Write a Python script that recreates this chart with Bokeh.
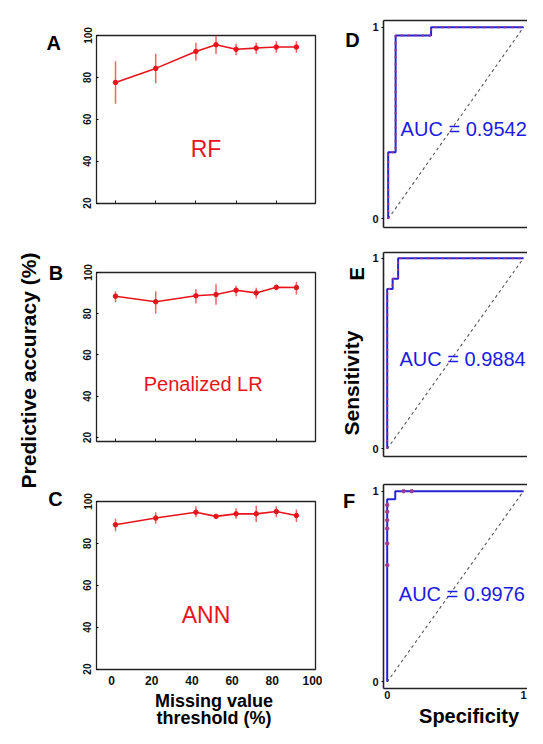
import math
from bokeh.plotting import figure
from bokeh.models import Range1d, FixedTicker, LinearAxis
from bokeh.layouts import row, column
from bokeh.embed import file_html
from bokeh.resources import INLINE
from bokeh.core.properties import value

# ---------------- data ----------------
thresholds = [2, 22, 42, 52, 62, 72, 82, 92]

rf_acc = [77.6, 84.3, 92.4, 95.6, 93.4, 94.0, 94.5, 94.5]
rf_lo = [67.4, 77.2, 88.0, 91.2, 90.6, 91.3, 91.8, 91.8]
rf_hi = [87.7, 91.3, 96.5, 100.0, 96.1, 96.5, 97.2, 97.2]

lr_acc = [88.5, 85.8, 88.7, 89.3, 91.4, 90.1, 92.8, 92.7]
lr_lo = [85.6, 80.1, 85.0, 84.3, 88.5, 87.4, 91.4, 89.3]
lr_hi = [90.9, 90.9, 91.9, 94.3, 93.6, 92.6, 94.1, 95.5]

ann_acc = [88.9, 92.1, 94.9, 92.9, 94.1, 94.1, 95.2, 93.3]
ann_lo = [85.8, 89.4, 92.5, 92.1, 91.8, 90.2, 92.5, 90.2]
ann_hi = [91.8, 94.9, 97.7, 93.6, 96.8, 98.0, 97.7, 96.2]

acc_yticks = [20, 40, 60, 80, 100]
acc_xticks = [0, 20, 40, 60, 80, 100]
acc_minor_xticks = [2, 22, 42, 62, 82]
method_names = ["RF", "Penalized  LR", "ANN"]

roc_d_fpr = [0, 0, 0.055, 0.055, 0.317, 0.317, 1.0]
roc_d_tpr = [0, 0.348, 0.348, 0.957, 0.957, 1.0, 1.0]
roc_e_fpr = [0, 0, 0.04, 0.04, 0.08, 0.08, 1.0]
roc_e_tpr = [0, 0.839, 0.839, 0.892, 0.892, 1.0, 1.0]
roc_f_fpr = [0, 0, 0.059, 0.059, 1.0]
roc_f_tpr = [0, 0.958, 0.958, 1.0, 1.0]
roc_f_mark_fpr = [0, 0, 0, 0, 0, 0, 0.12, 0.18]
roc_f_mark_tpr = [0.612, 0.726, 0.804, 0.848, 0.892, 0.927, 1.0, 1.0]
roc_ticks = [0, 1]
auc_labels = ["AUC = 0.9542", "AUC = 0.9884", "AUC = 0.9976"]

panel_letters = ["A", "B", "C", "D", "E", "F"]
y_title = "Predictive accuracy (%)"
x_title_lines = ["Missing value", "threshold (%)"]
roc_y_title = "Sensitivity"
roc_x_title = "Specificity"

# ---------------- style / layout ----------------
FONT = "Liberation Sans"
RED = "#e8141c"
BAR_RED = "#f04848"
BLUE = "#2424d4"
TXT_BLUE = "#1c1ce0"
MARK = "#a03a90"
FRAME = "#222222"

TOTAL_H = 728
STRIP_L = 63          # left text strip
COL_L_END = 322       # end of accuracy column
COL_R_START = 368     # start of ROC column
RIGHT_END = 527


def strip(width, height):
    p = figure(width=width, height=height, x_range=Range1d(0, width),
               y_range=Range1d(0, height), output_backend="svg",
               toolbar_location=None, x_axis_location=None,
               y_axis_location=None, min_border=0)
    p.grid.visible = False
    p.outline_line_color = None
    return p


def strip_text(p, height, x, y, text, size, angle=0.0):
    p.text(x=[x], y=[height - y], text=[text], angle=angle,
           text_font=value(FONT), text_font_size=size, text_font_style="bold",
           text_color="black", text_align="center", text_baseline="middle")


def left_panel(acc, lo, hi, name, yr, h, bt, bb, show_x, name_size):
    xr = (-7.46, 101.5)
    p = figure(width=COL_L_END - STRIP_L, height=h, x_range=Range1d(*xr),
               y_range=Range1d(*yr), output_backend="svg", toolbar_location=None,
               min_border_left=96 - STRIP_L, min_border_right=COL_L_END - 315,
               min_border_top=bt, min_border_bottom=bb)
    p.grid.visible = False
    p.outline_line_color = FRAME
    p.outline_line_width = 1.3

    ya = p.yaxis[0]
    ya.ticker = FixedTicker(ticks=acc_yticks)
    ya.minor_tick_line_color = None
    ya.major_tick_in = 2
    ya.major_tick_out = 0
    ya.axis_line_color = None
    ya.major_label_orientation = "vertical"
    ya.major_label_standoff = 5
    ya.major_label_text_font = FONT
    ya.major_label_text_font_style = "bold"
    ya.major_label_text_font_size = "10px"
    ya.major_label_text_color = "#111111"

    xa = p.xaxis[0]
    xa.axis_line_color = None
    if show_x:
        xa.ticker = FixedTicker(ticks=acc_xticks)
        xa.minor_tick_line_color = None
        xa.major_tick_in = 0
        xa.major_tick_out = 0
        xa.major_label_standoff = 6
        xa.major_label_text_font = FONT
        xa.major_label_text_font_style = "bold"
        xa.major_label_text_font_size = "12px"
        xa.major_label_text_color = "#111111"
    else:
        xa.ticker = FixedTicker(ticks=[], minor_ticks=acc_minor_xticks)
        xa.major_tick_line_color = None
        xa.minor_tick_line_color = FRAME
        xa.minor_tick_in = 3
        xa.minor_tick_out = 0

    p.segment(x0=thresholds, y0=lo, x1=thresholds, y1=hi, line_color=BAR_RED,
              line_width=1.5, line_alpha=0.85)
    p.line(thresholds, acc, line_color=RED, line_width=1.6)
    p.scatter(thresholds, acc, size=4.5, fill_color=RED, line_color=RED)
    p.text(x=[47], y=[46], text=[name], text_color=RED, text_font=value(FONT),
           text_font_size=name_size, text_align="center", text_baseline="middle")
    return p


# ---- accuracy column (A, B, C) ----
H_A, H_B, H_C = 238, 232, 219
pa = left_panel(rf_acc, rf_lo, rf_hi, method_names[0], (19.8, 100), H_A, 35, 35, False, "23px")
pb = left_panel(lr_acc, lr_lo, lr_hi, method_names[1], (18.0, 100), H_B, 34, 29, False, "20px")
pc = left_panel(ann_acc, ann_lo, ann_hi, method_names[2], (19.8, 100), H_C, 31, 20, True, "23px")
y_off = H_A + H_B + H_C
bl_h = TOTAL_H - y_off
pbl = strip(COL_L_END - STRIP_L, bl_h)
strip_text(pbl, bl_h, 202 - STRIP_L, 700.0 - y_off, x_title_lines[0], "18px")
strip_text(pbl, bl_h, 202 - STRIP_L, 717.5 - y_off, x_title_lines[1], "18px")

# ---- ROC column (D, E, F) ----
X0_PX, X1_PX = 386.7, 523.0
PPU = X1_PX - X0_PX


def roc_panel(fpr, tpr, auc, auc_xy, yr, h, bt, bb, bl, show_x, dotted):
    fl = COL_R_START + bl
    xr = ((fl - X0_PX) / PPU, (RIGHT_END - X0_PX) / PPU)
    p = figure(width=RIGHT_END - COL_R_START, height=h, x_range=Range1d(*xr),
               y_range=Range1d(*yr), output_backend="svg", toolbar_location=None,
               min_border_left=bl, min_border_right=0, min_border_top=bt,
               min_border_bottom=bb)
    p.grid.visible = False
    p.outline_line_color = None

    ya = p.yaxis[0]
    ya.ticker = FixedTicker(ticks=roc_ticks)
    ya.minor_tick_line_color = None
    ya.major_tick_in = 0
    ya.major_tick_out = 2
    ya.axis_line_color = FRAME
    ya.axis_line_width = 1.6
    ya.major_label_standoff = 3
    ya.major_label_text_font = FONT
    ya.major_label_text_font_style = "bold"
    ya.major_label_text_font_size = "11px"
    ya.major_label_text_color = "#111111"

    xa = p.xaxis[0]
    xa.minor_tick_line_color = None
    xa.axis_line_color = FRAME
    xa.axis_line_width = 1.6
    xa.major_tick_in = 0
    xa.major_tick_out = 0
    if show_x:
        xa.ticker = FixedTicker(ticks=roc_ticks)
        xa.major_label_standoff = 2
        xa.major_label_text_font = FONT
        xa.major_label_text_font_style = "bold"
        xa.major_label_text_font_size = "11px"
        xa.major_label_text_color = "#111111"
    else:
        xa.ticker = FixedTicker(ticks=[])

    top = LinearAxis(ticker=FixedTicker(ticks=[]), axis_line_color=FRAME,
                     axis_line_width=1.6, major_tick_in=0, major_tick_out=0,
                     minor_tick_line_color=None)
    p.add_layout(top, "above")

    p.line([0, 1], [0, 1], line_color="#555555", line_width=1.1, line_dash="3 3")
    p.line(fpr, tpr, line_color=BLUE, line_width=2)
    if dotted:
        p.line(fpr, tpr, line_color=MARK, line_width=2.2, line_dash="2 5", line_alpha=0.9)
    p.text(x=[auc_xy[0]], y=[auc_xy[1]], text=[auc], text_color=TXT_BLUE,
           text_font=value(FONT), text_font_size="20px", text_align="left",
           text_baseline="middle")
    return p


H_D, H_E, H_F = 238, 230, 236
pd_ = roc_panel(roc_d_fpr, roc_d_tpr, auc_labels[0], (0.092, 0.47), (-0.045, 1.035), H_D, 20, 11, 14, False, True)
pe = roc_panel(roc_e_fpr, roc_e_tpr, auc_labels[1], (0.09, 0.472), (-0.040, 1.030), H_E, 14, 12, 15, False, True)
pf = roc_panel(roc_f_fpr, roc_f_tpr, auc_labels[2], (0.085, 0.462), (-0.035, 1.035), H_F, 16, 16, 15, True, False)
pf.scatter(roc_f_mark_fpr, roc_f_mark_tpr, size=3.5, fill_color=MARK, line_color=MARK)
r_off = H_D + H_E + H_F
br_h = TOTAL_H - r_off
pbr = strip(RIGHT_END - COL_R_START, br_h)
strip_text(pbr, br_h, 462.5 - COL_R_START, 715.5 - r_off, roc_x_title, "20px")

# ---- text strips ----
p_left = strip(STRIP_L, TOTAL_H)
strip_text(p_left, TOTAL_H, 28.0, 370.0, y_title, "21px", angle=math.pi / 2)
strip_text(p_left, TOTAL_H, 53.3, 42.2, panel_letters[0], "20px")
strip_text(p_left, TOTAL_H, 55.5, 272.0, panel_letters[1], "20px")
strip_text(p_left, TOTAL_H, 55.0, 498.8, panel_letters[2], "20px")

mid_w = COL_R_START - COL_L_END
p_mid = strip(mid_w, TOTAL_H)
strip_text(p_mid, TOTAL_H, 352.0 - COL_L_END, 39.2, panel_letters[3], "20px")
strip_text(p_mid, TOTAL_H, 356.0 - COL_L_END, 273.3, panel_letters[4], "20px", angle=math.pi / 2)
strip_text(p_mid, TOTAL_H, 348.7 - COL_L_END, 500.0, panel_letters[5], "20px")
strip_text(p_mid, TOTAL_H, 350.5 - COL_L_END, 382.5, roc_y_title, "21px", angle=math.pi / 2)

layout = row(p_left,
             column(pa, pb, pc, pbl, spacing=0),
             p_mid,
             column(pd_, pe, pf, pbr, spacing=0),
             spacing=0)

open("out.html", "w").write(file_html(layout, INLINE))
